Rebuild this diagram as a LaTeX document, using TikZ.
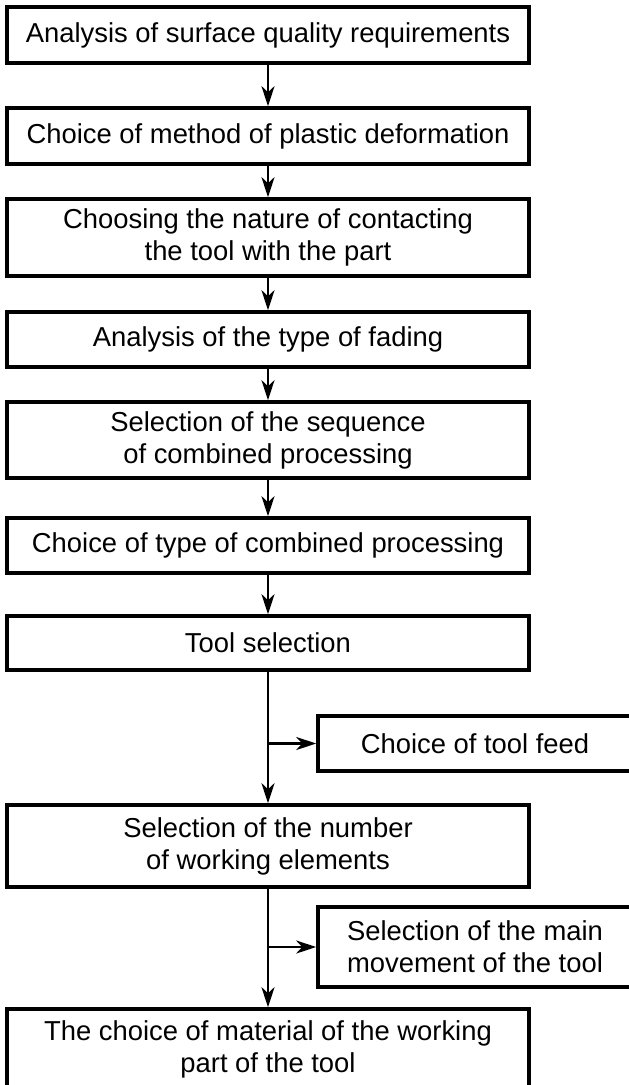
\documentclass[tikz,border=0pt]{standalone}
\usepackage{fontspec}
\setmainfont{Liberation Sans}
\usetikzlibrary{arrows.meta}

\tikzset{
  stage/.style={draw, line width=3.6bp, minimum width=522bp, inner sep=0pt,
    align=center, font=\fontsize{27.5}{32}\selectfont},
  sidestage/.style={stage, minimum width=314bp},
  flow/.style={line width=2.8bp, -{Stealth[length=20bp, width=13bp, inset=6bp]}}
}

\begin{document}
\begin{tikzpicture}[x=1bp, y=-1bp]
                \clip (0, 0) rectangle (629, 1085);
                \fill[white] (0, 0) rectangle (629, 1085);

                % main chain
                \node[stage, minimum height=56bp] (quality) at (268, 35) {Analysis of surface quality requirements};
                \node[stage, minimum height=56bp] (method) at (268, 136) {Choice of method of plastic deformation};
                \node[stage, minimum height=77bp] (contact) at (268, 237.5) {Choosing the nature of contacting\\the tool with the part};
                \node[stage, minimum height=55bp] (fading) at (268, 339.5) {Analysis of the type of fading};
                \node[stage, minimum height=76bp] (sequence) at (268, 440) {Selection of the sequence\\of combined processing};
                \node[stage, minimum height=55bp] (combined) at (268, 545.5) {Choice of type of combined processing};
                \node[stage, minimum height=54bp] (tool) at (268, 643) {Tool selection};
                \node[stage, minimum height=82bp] (elements) at (268, 846) {Selection of the number\\of working elements};
                \node[stage, minimum height=81bp] (material) at (268, 1049.5) {The choice of material of the working\\part of the tool};

                % side boxes
                \node[sidestage, minimum height=55bp] (feed) at (475, 743.5) {Choice of tool feed};
                \node[sidestage, minimum height=80bp] (movement) at (475, 947) {Selection of the main\\movement of the tool};

                \draw[flow] (quality) -- (method);
                \draw[flow] (method) -- (contact);
                \draw[flow] (contact) -- (fading);
                \draw[flow] (fading) -- (sequence);
                \draw[flow] (sequence) -- (combined);
                \draw[flow] (combined) -- (tool);
                \draw[flow] (tool) -- (elements);
                \draw[flow] (elements) -- (material);

                \coordinate (forkfeed) at (tool.south |- feed.west);
                \coordinate (forkmove) at (elements.south |- movement.west);
                \draw[flow] (forkfeed) -- (feed.west);
                \draw[flow] (forkmove) -- (movement.west);
            \end{tikzpicture}
\end{document}
